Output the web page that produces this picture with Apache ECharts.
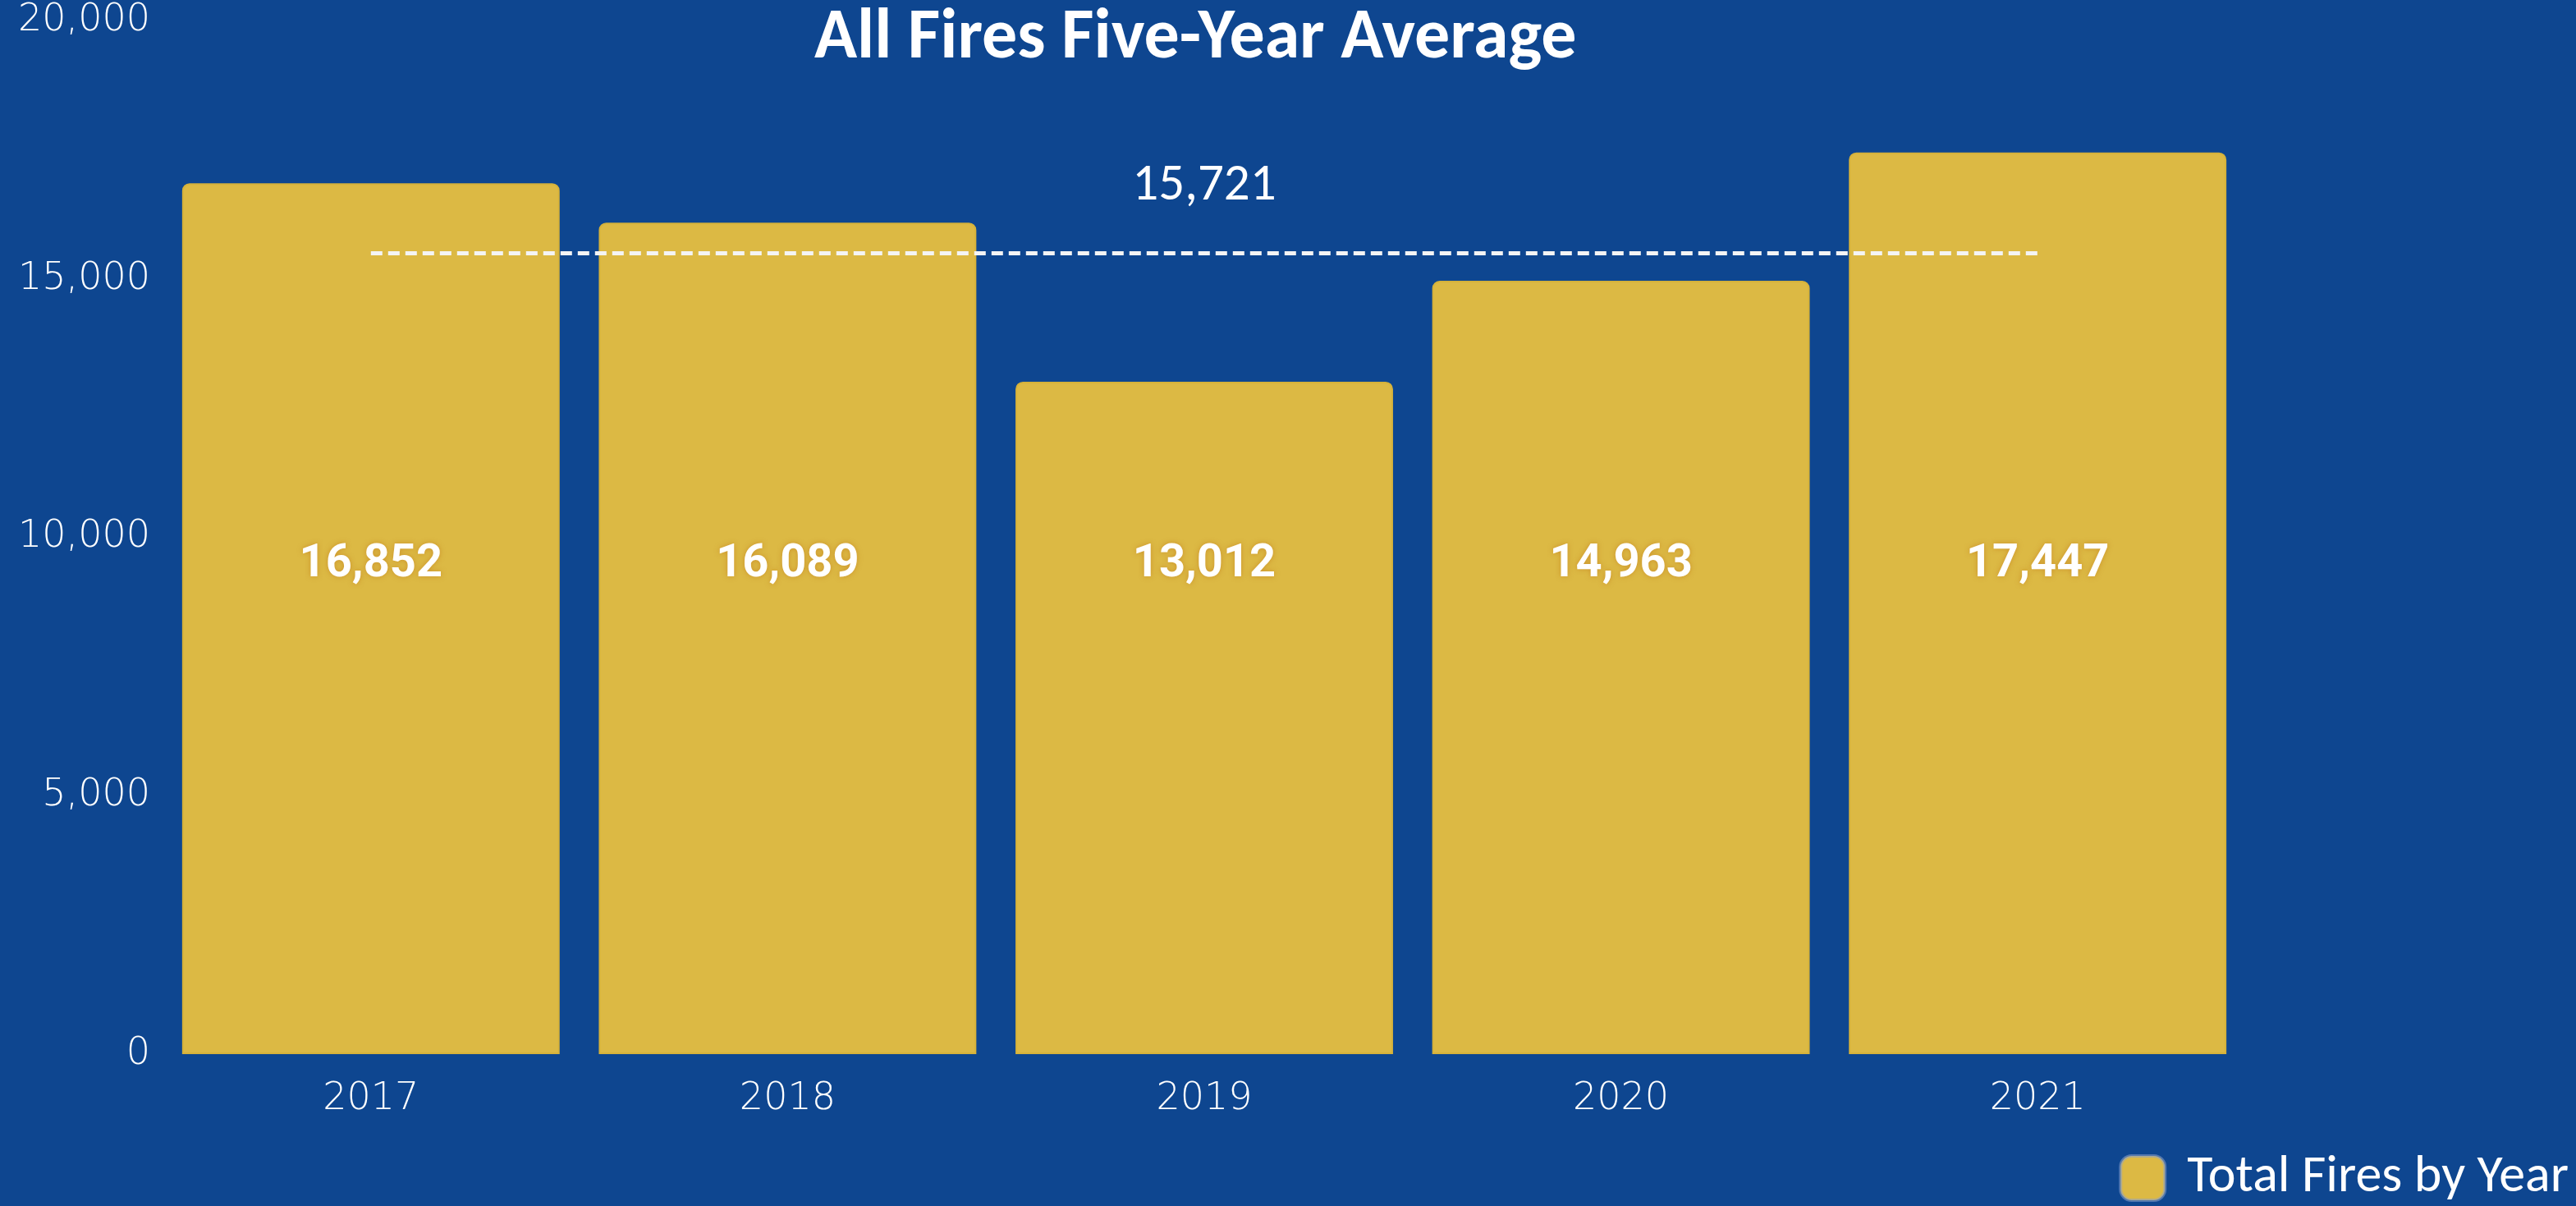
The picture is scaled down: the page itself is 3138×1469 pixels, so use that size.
<!DOCTYPE html>
<html>
<head>
<meta charset="utf-8">
<style>
html,body{margin:0;padding:0;background:#0e4690;}
#chart{width:3138px;height:1469px;}
</style>
<script src="https://cdn.jsdelivr.net/npm/echarts@6/dist/echarts.min.js"></script>
</head>
<body>
<div id="chart"></div>
<script>
const years = ['2017', '2018', '2019', '2020', '2021'];
const totalFires = [16852, 16089, 13012, 14963, 17447];
const averageLabel = '15,721';
const averageLineLevel = 15500;
const yTicks = [0, 5000, 10000, 15000, 20000];

const chart = echarts.init(document.getElementById('chart'));
const fmt = v => Number(v).toLocaleString('en-US');

chart.setOption({
  backgroundColor: '#0e4690',
  animation: false,
  title: {
    text: 'All Fires Five-Year Average',
    left: 992,
    top: 5,
    padding: 0,
    textStyle: { color: '#ffffff', fontFamily: 'Carlito, "Liberation Sans", sans-serif', fontWeight: 'bold', fontSize: 86 }
  },
  legend: {
    right: 9,
    bottom: 2,
    padding: 0,
    itemWidth: 54,
    itemHeight: 54,
    icon: 'roundRect',
    itemStyle: { borderColor: 'rgba(140,160,200,0.55)', borderWidth: 4 },
    textStyle: { color: '#ffffff', fontFamily: 'Carlito, "Liberation Sans", sans-serif', fontSize: 64, padding: [0, 0, 0, 22] },
    data: ['Total Fires by Year']
  },
  grid: { left: 198, right: 402, top: 25, bottom: 185 },
  xAxis: {
    type: 'category',
    data: years,
    axisLine: { show: false },
    axisTick: { show: false },
    axisLabel: { color: '#ffffff', fontFamily: '"DejaVu Sans", sans-serif', fontWeight: 200, fontSize: 46, margin: 32 }
  },
  yAxis: {
    type: 'value',
    min: yTicks[0],
    max: yTicks[yTicks.length - 1],
    interval: yTicks[1] - yTicks[0],
    splitLine: { show: false },
    axisLine: { show: false },
    axisTick: { show: false },
    axisLabel: { color: '#ffffff', fontFamily: '"DejaVu Sans", sans-serif', fontWeight: 200, fontSize: 46, margin: 15, formatter: fmt }
  },
  series: [{
    name: 'Total Fires by Year',
    type: 'bar',
    data: totalFires,
    barCategoryGap: '9.4%',
    itemStyle: { color: '#dcb944', borderRadius: [8, 8, 0, 0], borderColor: '#d6b23a', borderWidth: 2 },
    label: {
      show: true,
      position: 'insideBottom',
      distance: 568,
      color: '#ffffff',
      fontFamily: 'Roboto, sans-serif',
      fontWeight: 'bold',
      fontSize: 56,
      textShadowColor: 'rgba(190,110,20,0.5)',
      textShadowBlur: 6,
      formatter: p => fmt(p.value)
    },
    markLine: {
      symbol: ['none', 'none'],
      silent: true,
      lineStyle: { color: '#f4f4f4', width: 5, type: [14, 7] },
      label: {
        show: true,
        position: 'middle',
        distance: 50,
        formatter: averageLabel,
        color: '#ffffff',
        fontFamily: 'Carlito, "Liberation Sans", sans-serif',
        fontSize: 63
      },
      data: [[{ coord: [0, averageLineLevel] }, { coord: [4, averageLineLevel] }]]
    }
  }]
});
</script>
</body>
</html>
